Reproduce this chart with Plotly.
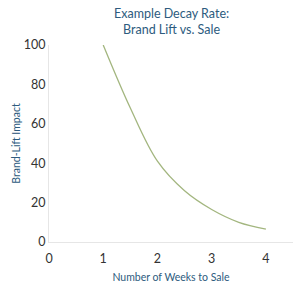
import plotly.graph_objects as go

weeks = [1, 1.5, 2, 2.5, 3, 3.5, 4]
impact = [100, 68, 41, 26, 16.5, 10, 6.5]
x_ticks = [0, 1, 2, 3, 4]
y_ticks = [0, 20, 40, 60, 80, 100]
title_text = "Example Decay Rate:<br>Brand Lift vs. Sale"

fig = go.Figure()
fig.add_trace(go.Scatter(x=weeks, y=impact, mode="lines",
                         line=dict(color="#a3b67f", width=1.3, shape="spline"),
                         hoverinfo="skip"))

fig.update_layout(
    width=300, height=289,
    margin=dict(l=49, r=7, t=45, b=47),
    paper_bgcolor="white", plot_bgcolor="white",
    showlegend=False,
    font=dict(family="Lato, sans-serif", color="#333333"),
)
fig.add_annotation(text=title_text, xref="paper", yref="paper",
                   x=0.5, y=1 + (45 - 21) / 197, xanchor="center", yanchor="middle",
                   showarrow=False, align="center",
                   font=dict(size=12.5, color="#2d5b7e", family="Lato, sans-serif"))
fig.update_xaxes(range=[0, 4.5], tickvals=x_ticks, showgrid=False, zeroline=False,
                 showline=True, linecolor="#e6e6e6", linewidth=1,
                 tickfont=dict(size=12.5, color="#333333"), ticks="",
                 ticklabelstandoff=5,
                 title=dict(text="Number of Weeks to Sale", standoff=8,
                            font=dict(size=10.5, color="#2d5b7e")))
fig.update_yaxes(range=[0, 100], tickvals=y_ticks, showgrid=False, zeroline=False,
                 showline=True, linecolor="#e6e6e6", linewidth=1,
                 tickfont=dict(size=12.5, color="#333333"), ticks="",
                 title=dict(text="Brand-Lift Impact", standoff=1,
                            font=dict(size=10.5, color="#2d5b7e")))

fig.write_html("out.html")
